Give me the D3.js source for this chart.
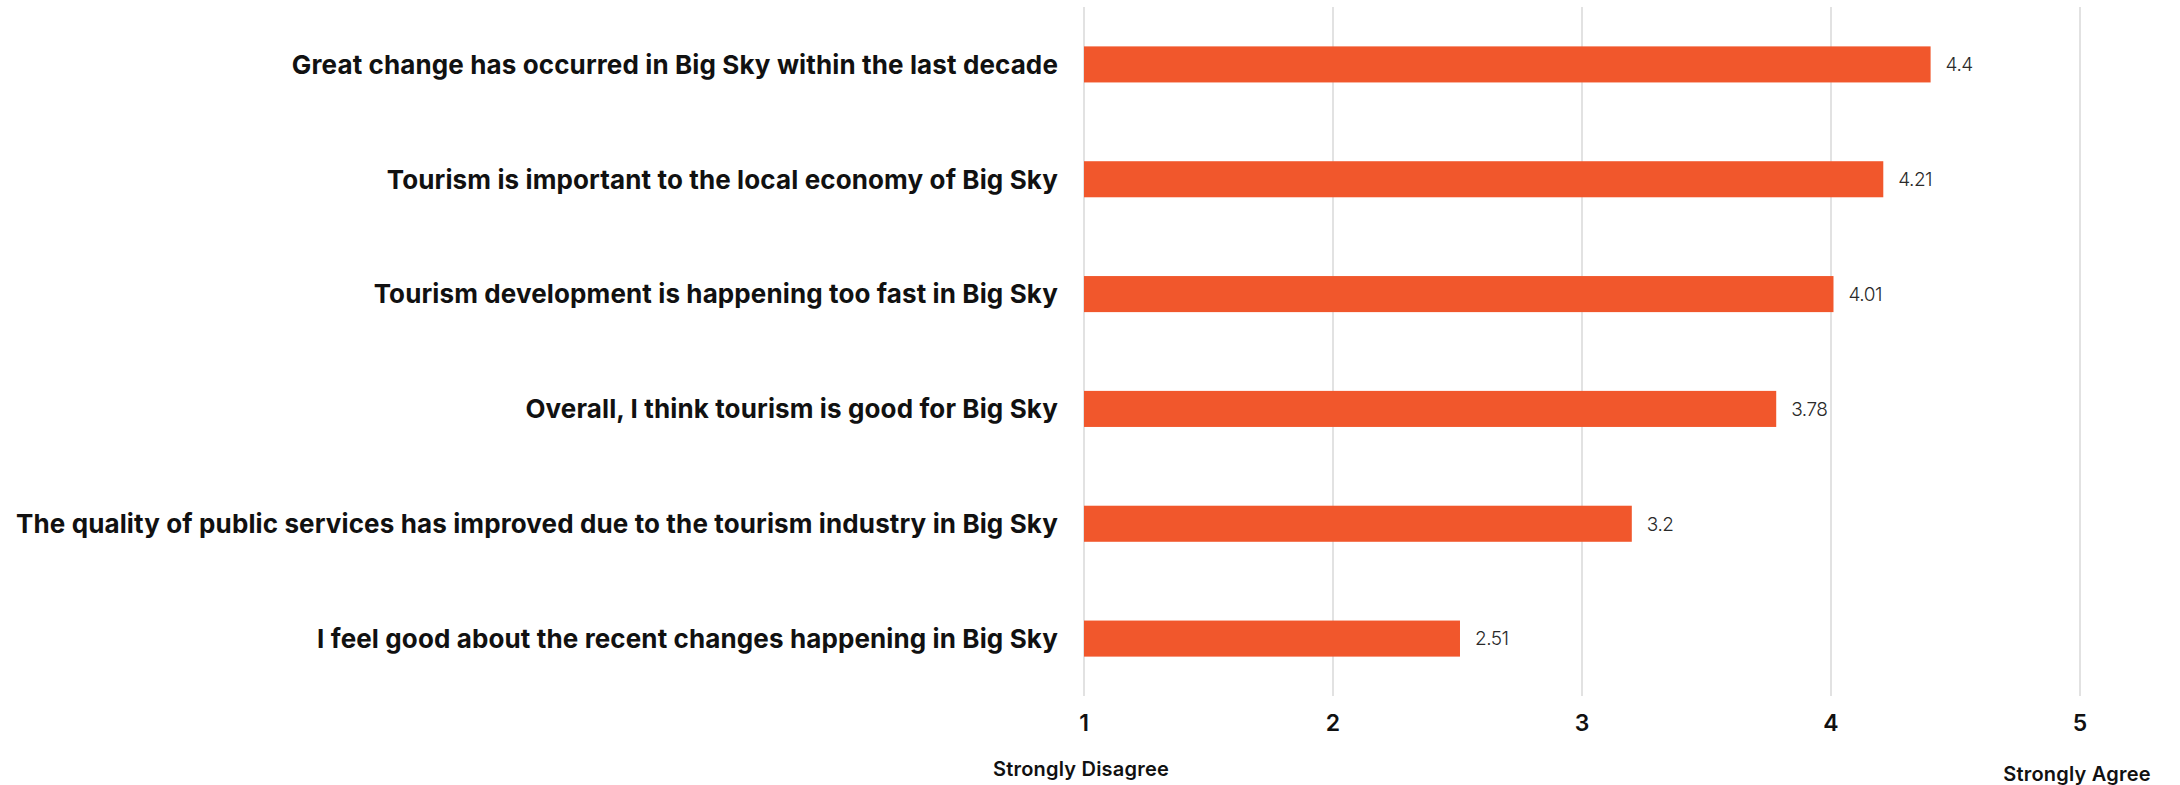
<!DOCTYPE html>
<html>
<head>
<meta charset="utf-8">
<script src="https://cdn.jsdelivr.net/npm/d3@7"></script>
<style>
  html, body { margin: 0; padding: 0; background: #ffffff; }
  svg { display: block; }
</style>
</head>
<body>
<svg id="chart" width="2180" height="785"></svg>
<script>
// Survey statements (top to bottom) and their mean agreement scores (1–5)
const statements = [
  "Great change has occurred in Big Sky within the last decade",
  "Tourism is important to the local economy of Big Sky",
  "Tourism development is happening too fast in Big Sky",
  "Overall, I think tourism is good for Big Sky",
  "The quality of public services has improved due to the tourism industry in Big Sky",
  "I feel good about the recent changes happening in Big Sky"
];
const meanScores = [4.4, 4.21, 4.01, 3.78, 3.2, 2.51];
const scaleTicks = [1, 2, 3, 4, 5];
const scaleEnds = [
  { value: 1, label: "Strongly Disagree" },
  { value: 5, label: "Strongly Agree" }
];

const svg = d3.select("#chart");
const margin = { top: 7, left: 1084, right: 100, bottom: 89 };
const W = 2180, H = 785;
const plotBottom = H - margin.bottom;
const labelLeft = 16;   // left edge the longest statement should reach

const x = d3.scaleLinear().domain([1, 5]).range([margin.left, W - margin.right]);
const y = d3.scaleBand().domain(statements).range([margin.top, plotBottom]).paddingInner(0.686).paddingOuter(0.343);

const barColor = "#f1572c";
const labelFont = "Inter, Lato, 'Open Sans', sans-serif";

// vertical gridlines
svg.append("g")
  .selectAll("line")
  .data(scaleTicks)
  .join("line")
  .attr("x1", d => x(d)).attr("x2", d => x(d))
  .attr("y1", margin.top).attr("y2", plotBottom)
  .attr("stroke", "#d9d9d9")
  .attr("stroke-width", 1.5);

// bars
svg.append("g")
  .selectAll("rect")
  .data(meanScores)
  .join("rect")
  .attr("x", x(1))
  .attr("y", (d, i) => y(statements[i]))
  .attr("width", d => x(d) - x(1))
  .attr("height", y.bandwidth())
  .attr("fill", barColor);

// value labels
svg.append("g")
  .selectAll("text")
  .data(meanScores)
  .join("text")
  .attr("x", d => x(d) + 15)
  .attr("y", (d, i) => y(statements[i]) + y.bandwidth() / 2)
  .attr("dy", "0.36em")
  .attr("font-family", labelFont)
  .attr("font-weight", 300)
  .attr("font-size", 19)
  .attr("letter-spacing", -0.5)
  .attr("fill", "#2a2a2a")
  .text(d => String(d));

// statement labels, right aligned against the first gridline
const labelRight = x(1) - 26;
const catLabels = svg.append("g")
  .selectAll("text")
  .data(statements)
  .join("text")
  .attr("x", labelRight)
  .attr("y", d => y(d) + y.bandwidth() / 2)
  .attr("dy", "0.36em")
  .attr("text-anchor", "end")
  .attr("font-family", labelFont)
  .attr("font-weight", 700)
  .attr("font-size", 26)
  .attr("fill", "#111111")
  .text(d => d);

// tighten or loosen tracking so the longest statement spans the label column
(function fitTracking() {
  let longest = null, maxW = 0;
  catLabels.each(function () {
    const w = this.getComputedTextLength();
    if (w > maxW) { maxW = w; longest = this; }
  });
  const n = longest.textContent.length;
  const ls = ((labelRight - labelLeft) - maxW) / n;
  catLabels.attr("letter-spacing", ls.toFixed(3));
})();

// numeric scale labels
svg.append("g")
  .selectAll("text")
  .data(scaleTicks)
  .join("text")
  .attr("x", d => x(d))
  .attr("y", 723)
  .attr("dy", "0.35em")
  .attr("text-anchor", "middle")
  .attr("font-family", labelFont)
  .attr("font-weight", 600)
  .attr("font-size", 23)
  .attr("fill", "#111111")
  .text(d => d);

// scale end descriptions
svg.append("g")
  .selectAll("text")
  .data(scaleEnds)
  .join("text")
  .attr("x", d => x(d.value) - 3)
  .attr("y", (d, i) => i === 0 ? 769 : 774)
  .attr("dy", "0.35em")
  .attr("text-anchor", "middle")
  .attr("font-family", labelFont)
  .attr("font-weight", 600)
  .attr("font-size", 20)
  .attr("letter-spacing", 0.2)
  .attr("fill", "#111111")
  .text(d => d.label);
</script>
</body>
</html>
